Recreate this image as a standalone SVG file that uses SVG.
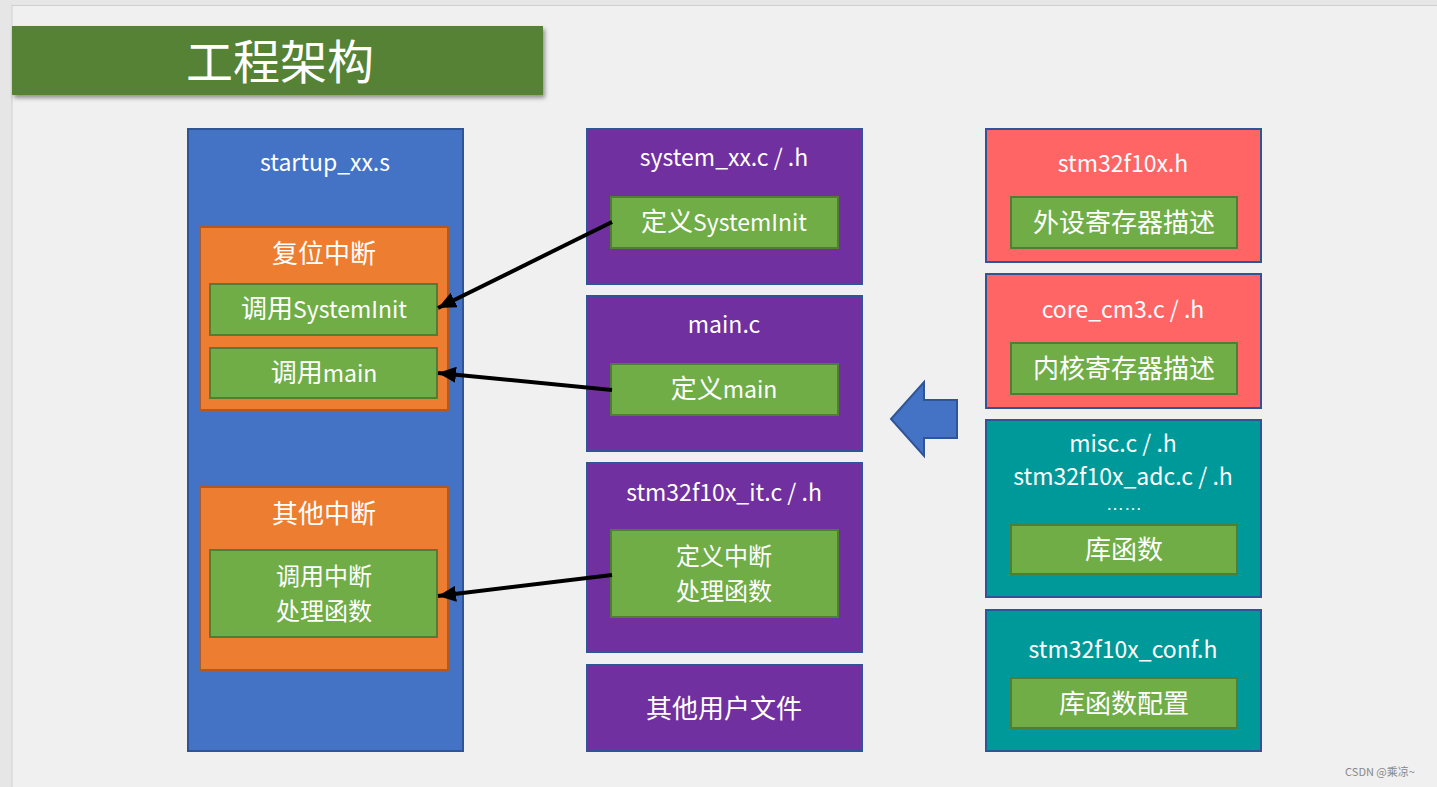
<svg xmlns="http://www.w3.org/2000/svg" width="1437" height="787" viewBox="0 0 1437 787">
<defs>
<style>
text{font-family:"Noto Sans CJK SC","Noto Sans",sans-serif;fill:#fff;text-anchor:middle;font-size:23px}
.cj{font-size:26px}
.cj2{font-size:24px}
.blue{fill:#4472C4;stroke:#2F5597;stroke-width:2}
.orange{fill:#ED7D31;stroke:#AE5A21;stroke-width:2}
.green{fill:#70AD47;stroke:#507E32;stroke-width:2}
.purple{fill:#7030A0;stroke:#2F5597;stroke-width:2}
.red{fill:#FF6565;stroke:#2F5597;stroke-width:2}
.teal{fill:#009999;stroke:#2F5597;stroke-width:2}
.conn{stroke:#000;stroke-width:4;fill:none;marker-end:url(#ah)}
</style>
<marker id="ah" markerUnits="userSpaceOnUse" markerWidth="20" markerHeight="16" refX="18" refY="8" orient="auto">
<path d="M0,0 L18,8 L0,16 Z" fill="#000"/>
</marker>
<filter id="sh" x="-5%" y="-20%" width="110%" height="150%">
<feDropShadow dx="2" dy="3" stdDeviation="2" flood-color="#000" flood-opacity="0.4"/>
</filter>
</defs>
<rect x="0" y="0" width="1437" height="787" fill="#e6e6e6"/>
<rect x="12" y="5.5" width="1430" height="790" fill="#f0f0f0" stroke="#cfcfcf" stroke-width="1"/>

<g id="title">
<rect x="12" y="26" width="531" height="69" fill="#548235" filter="url(#sh)"/>
<text x="280" y="79" style="font-size:47px">工程架构</text>
</g>

<g id="startup">
<rect class="blue" x="188" y="129" width="275" height="622"/>
<text x="325" y="171">startup_xx.s</text>
</g>
<g id="reset">
<rect class="orange" x="200" y="227" width="248" height="183"/>
<text class="cj" x="324" y="263">复位中断</text>
</g>
<g id="callSystemInit">
<rect class="green" x="210" y="284" width="227" height="51"/>
<text x="324" y="318"><tspan class="cj">调用</tspan>SystemInit</text>
</g>
<g id="callMain">
<rect class="green" x="210" y="348" width="227" height="50"/>
<text x="324" y="382"><tspan class="cj">调用</tspan>main</text>
</g>
<g id="otherIrq">
<rect class="orange" x="200" y="487" width="248" height="183"/>
<text class="cj" x="324" y="523">其他中断</text>
</g>
<g id="callHandler">
<rect class="green" x="210" y="550" width="227" height="87"/>
<text class="cj2" x="324" y="585">调用中断</text>
<text class="cj2" x="324" y="620">处理函数</text>
</g>

<g id="system">
<rect class="purple" x="587" y="129" width="275" height="155"/>
<text x="724" y="166">system_xx.c / .h</text>
</g>
<g id="defSystemInit">
<rect class="green" x="611" y="197" width="227" height="51"/>
<text x="724" y="231"><tspan class="cj">定义</tspan>SystemInit</text>
</g>
<g id="mainc">
<rect class="purple" x="587" y="296" width="275" height="155"/>
<text x="724" y="333">main.c</text>
</g>
<g id="defMain">
<rect class="green" x="611" y="364" width="227" height="51"/>
<text x="724" y="398"><tspan class="cj">定义</tspan>main</text>
</g>
<g id="it">
<rect class="purple" x="587" y="463" width="275" height="189"/>
<text x="724" y="501">stm32f10x_it.c / .h</text>
</g>
<g id="defHandler">
<rect class="green" x="611" y="530" width="227" height="87"/>
<text class="cj2" x="724" y="565">定义中断</text>
<text class="cj2" x="724" y="600">处理函数</text>
</g>
<g id="userFiles">
<rect class="purple" x="587" y="665" width="275" height="86"/>
<text class="cj" x="724" y="718">其他用户文件</text>
</g>

<g id="stm32h">
<rect class="red" x="986" y="129" width="275" height="133"/>
<text x="1123" y="172">stm32f10x.h</text>
</g>
<g id="periph">
<rect class="green" x="1011" y="197" width="226" height="51"/>
<text class="cj" x="1124" y="232">外设寄存器描述</text>
</g>
<g id="core">
<rect class="red" x="986" y="274" width="275" height="134"/>
<text x="1123" y="318">core_cm3.c / .h</text>
</g>
<g id="coreReg">
<rect class="green" x="1011" y="343" width="226" height="51"/>
<text class="cj" x="1124" y="378">内核寄存器描述</text>
</g>
<g id="lib">
<rect class="teal" x="986" y="420" width="275" height="177"/>
<text x="1123" y="452">misc.c / .h</text>
<text x="1123" y="485">stm32f10x_adc.c / .h</text>
<text x="1124" y="510" style="font-family:'Liberation Sans',sans-serif;font-size:18px">……</text>
</g>
<g id="libFunc">
<rect class="green" x="1011" y="525" width="226" height="49"/>
<text class="cj" x="1124" y="559">库函数</text>
</g>
<g id="conf">
<rect class="teal" x="986" y="610" width="275" height="141"/>
<text x="1123" y="658">stm32f10x_conf.h</text>
</g>
<g id="libConf">
<rect class="green" x="1011" y="678" width="226" height="50"/>
<text class="cj" x="1124" y="713">库函数配置</text>
</g>

<g id="connectors">
<line class="conn" x1="612" y1="222" x2="438" y2="308"/>
<line class="conn" x1="612" y1="390" x2="438" y2="373"/>
<line class="conn" x1="612" y1="575" x2="438" y2="596"/>
<polygon points="891,419 924,382 924,400 957,400 957,438 924,438 924,456" fill="#4472C4" stroke="#2F5597" stroke-width="2"/>
</g>

<text x="1380" y="776" style="font-size:11px;fill:#888;text-anchor:middle">CSDN @乘凉~</text>
</svg>
